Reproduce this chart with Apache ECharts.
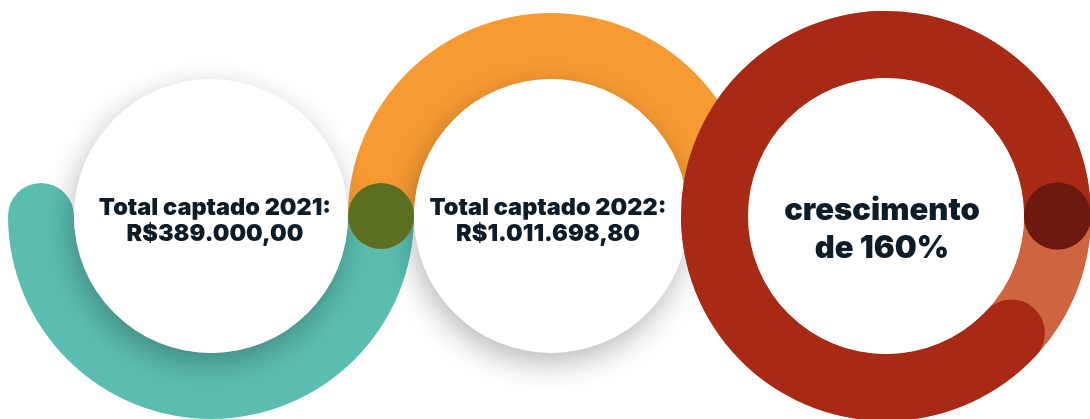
<!DOCTYPE html>
<html><head><meta charset="utf-8">
<script src="https://cdn.jsdelivr.net/npm/echarts@6/dist/echarts.min.js"></script>
<style>html,body{margin:0;padding:0;background:#fff}#c{width:1090px;height:419px}</style>
</head><body><div id="c"></div>
<script>
// ---- data ----
const categories = ['Total captado 2021:', 'Total captado 2022:', 'crescimento'];
const valueLabels = ['R$389.000,00', 'R$1.011.698,80', 'de 160%'];
const values = [389000, 1011698.80, 160];
// arcs (degrees): where each coloured arc starts and how far it runs clockwise
const arcStart = [0, 180, -43];
const arcSpan = [180, 180, 317];

// ---- layout / style ----
const centers = [[211, 216], [551, 216], [886, 216]];
const outerR = [203, 203, 205];
const ringW = [66, 66, 67];
const ringColors = ['#5bbdb0', '#f79a32', '#a82914'];
const trackColor = '#cf6441';
const joinColors = ['#5a6f22', '#6d190f'];
const textColor = '#0e1c27';

const chart = echarts.init(document.getElementById('c'), null, {renderer: 'canvas'});

function ring(i, withTrack, z) {
  return {
    type: 'gauge', z: z, center: centers[i], radius: outerR[i],
    startAngle: arcStart[i], endAngle: arcStart[i] - 360, clockwise: true,
    min: 0, max: 360,
    progress: {show: true, width: ringW[i], roundCap: true, itemStyle: {color: ringColors[i]}},
    axisLine: withTrack ? {show: true, lineStyle: {width: ringW[i], color: [[1, trackColor]]}} : {show: false},
    axisTick: {show: false}, splitLine: {show: false}, axisLabel: {show: false},
    pointer: {show: false}, anchor: {show: false}, title: {show: false}, detail: {show: false},
    silent: true,
    data: [{value: arcSpan[i], name: categories[i]}]
  };
}
function disc(i, shadow, z) {
  return {
    type: 'pie', z: z, center: centers[i], radius: [0, outerR[i] - ringW[i]],
    silent: true, label: {show: false}, labelLine: {show: false},
    itemStyle: shadow ? {color: '#ffffff', shadowBlur: 30, shadowColor: 'rgba(0,0,0,0.28)', shadowOffsetY: 10, shadowOffsetX: -3} : {color: '#ffffff'},
    data: [{value: values[i], name: categories[i]}]
  };
}
function endPoint(i, angleDeg) {
  const rc = outerR[i] - ringW[i] / 2;
  const a = angleDeg * Math.PI / 180;
  return [centers[i][0] + rc * Math.cos(a), centers[i][1] - rc * Math.sin(a)];
}
const j1 = endPoint(0, arcStart[0]);
const j2 = endPoint(2, arcStart[2] - arcSpan[2]);

const textPos = [[215, 221], [548, 221], [882, 230]];
const mk = (i, size, lh) => ({
  type: 'text', z: 100, silent: true,
  style: {
    text: categories[i] + '\n' + valueLabels[i], x: textPos[i][0], y: textPos[i][1],
    align: 'center', verticalAlign: 'middle',
    font: '900 ' + size + 'px Inter', lineHeight: lh, fill: textColor
  }
});

chart.setOption({
  animation: false,
  backgroundColor: '#ffffff',
  series: [
    ring(0, false, 2), ring(1, false, 2),
    disc(0, true, 3), disc(1, true, 3),
    ring(2, true, 4),
    disc(2, false, 5)
  ],
  graphic: [
    {type: 'circle', z: 50, silent: true, shape: {cx: j1[0], cy: j1[1], r: ringW[0] / 2}, style: {fill: joinColors[0]}},
    {type: 'circle', z: 50, silent: true, shape: {cx: j2[0], cy: j2[1], r: ringW[2] / 2}, style: {fill: joinColors[1]}},
    mk(0, 23.5, 26), mk(1, 23.5, 26), mk(2, 31, 38)
  ]
});
</script></body></html>
